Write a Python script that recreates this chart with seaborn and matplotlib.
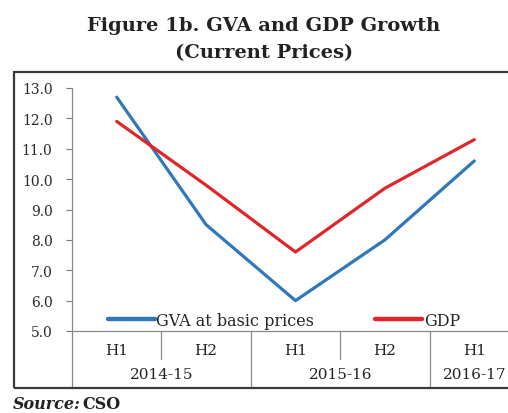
import matplotlib
matplotlib.use('Agg')
import matplotlib.pyplot as plt
import matplotlib.transforms as mtransforms
from matplotlib.lines import Line2D
from matplotlib.patches import Rectangle
import pandas as pd
import seaborn as sns

# ===== Data =====
halves = ['H1', 'H2', 'H1', 'H2', 'H1']
years = ['2014-15', '2015-16', '2016-17']
year_spans = [(0, 1), (2, 3), (4, 4)]  # first/last half index of each year
gva = [12.7, 8.5, 6.0, 8.0, 10.6]
gdp = [11.9, 9.8, 7.6, 9.7, 11.3]
series_names = ['GVA at basic prices', 'GDP']
colors = ['#2F78BC', '#E0262B']

df = pd.DataFrame({
    'pos': list(range(len(halves))) * 2,
    'value': gva + gdp,
    'series': [series_names[0]] * len(gva) + [series_names[1]] * len(gdp),
})

sns.set_style('white')
plt.rcParams['font.family'] = ['DejaVu Serif']

W, H = 508, 414
fig = plt.figure(figsize=(W / 100, H / 100), dpi=100)

# outer frame round the chart
fig.patches.append(Rectangle((14 / W, (H - 389) / H), 520 / W, (389 - 73) / H,
                             transform=fig.transFigure, fill=False,
                             edgecolor='#3a3a3a', linewidth=1.6))

ax = fig.add_axes([72 / W, (H - 332) / H, 447 / W, (332 - 89) / H])
sns.lineplot(data=df, x='pos', y='value', hue='series', palette=colors,
             hue_order=series_names, linewidth=2.3, legend=False, ax=ax)

ax.set_xlim(-0.5, len(halves) - 0.5)
ax.set_ylim(5, 13)
ax.set_yticks(range(5, 14))
ax.set_yticklabels([f'{v:.1f}' for v in range(5, 14)], fontsize=10, color='#2a2a2a')
ax.tick_params(axis='y', direction='out', length=4, width=0.8, color='#777777',
               pad=10, left=True)
ax.set_xticks(range(len(halves)))
ax.set_xticklabels(halves, fontsize=11, color='#222222')
ax.tick_params(axis='x', length=0, pad=9)
ax.set_xlabel('')
ax.set_ylabel('')

for side in ['top', 'right']:
    ax.spines[side].set_visible(False)
for side in ['left', 'bottom']:
    ax.spines[side].set_color('#888888')
    ax.spines[side].set_linewidth(0.9)

# two-level category axis: separators and year labels
trans = mtransforms.blended_transform_factory(ax.transData, ax.transAxes)
long_y = -(389 - 332) / (332 - 89)
short_y = -(360 - 332) / (332 - 89)
for x, low in [(-0.5, long_y), (0.5, short_y), (1.5, long_y),
               (2.5, short_y), (3.5, long_y)]:
    ax.add_line(Line2D([x, x], [0, low], transform=trans, clip_on=False,
                       color='#888888', linewidth=0.9))
for name, (a, b) in zip(years, year_spans):
    ax.text((a + b) / 2, -(375 - 332) / (332 - 89), name, transform=trans,
            ha='center', va='center', fontsize=11, color='#222222')

handles = [Line2D([], [], color=c, linewidth=3.2) for c in colors]
ax.legend(handles, series_names, loc='center left',
          bbox_to_anchor=(0.08, 0.045), ncol=2, frameon=False,
          borderpad=0, borderaxespad=0, handlelength=2.95, handletextpad=0.1,
          columnspacing=3.8, prop={'size': 11.5})

fig.text(264 / W, 1 - 26 / H, 'Figure 1b. GVA and GDP Growth', ha='center',
         va='center', fontsize=14, fontweight='bold', color='#222222')
fig.text(264 / W, 1 - 53 / H, '(Current Prices)', ha='center', va='center',
         fontsize=14, fontweight='bold', color='#222222')

fig.text(13 / W, 1 - 396 / H, 'Source:', ha='left', va='top', fontsize=11.5,
         fontstyle='italic', fontweight='bold', color='#222222')
fig.text(82 / W, 1 - 396 / H, 'CSO', ha='left', va='top', fontsize=11.5,
         fontweight='bold', color='#222222')

fig.savefig('out.png', dpi=100)
